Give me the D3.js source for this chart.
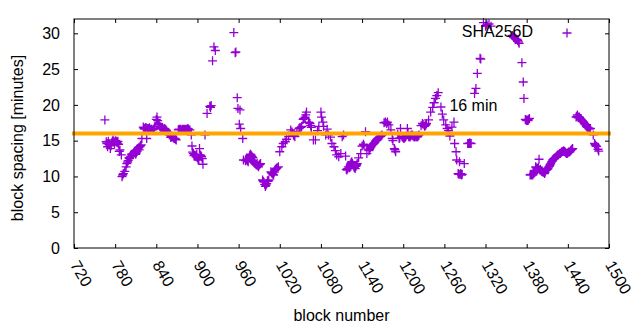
<!DOCTYPE html>
<html><head><meta charset="utf-8">
<script src="https://cdn.jsdelivr.net/npm/d3@7"></script>
<style>
body{margin:0;background:#fff}
svg text{font-family:"Liberation Sans",Arial,Helvetica,sans-serif;fill:#000}
</style>
</head><body>
<svg id="chart" width="640" height="330"></svg>
<script>
// ---- data ----
const blocks = [
765,767,768,769,770,772,773,775,777,778,779,780,782,783,786,787,789,790,791,792,
794,796,797,799,801,802,803,805,806,808,810,811,813,815,816,818,819,821,823,825,
826,827,828,830,831,833,835,837,840,841,843,845,847,849,852,854,856,857,859,861,
862,864,866,867,869,872,874,876,879,881,884,886,889,891,892,894,895,896,898,899,
901,903,904,906,907,908,911,914,918,919,920,922,924,926,953,955,956,958,959,961,
962,963,966,967,970,972,974,976,977,979,981,984,986,987,989,990,992,995,997,999,
1000,1002,1004,1007,1009,1011,1013,1015,1018,1020,1023,1025,1028,1030,1033,1036,1038,1040,1042,1045,
1048,1051,1054,1057,1059,1062,1064,1066,1069,1072,1075,1077,1080,1081,1083,1084,1087,1089,1091,1094,
1096,1099,1101,1103,1106,1109,1111,1113,1116,1118,1120,1122,1123,1125,1127,1128,1130,1133,1135,1138,
1140,1142,1143,1145,1147,1150,1153,1155,1157,1160,1162,1164,1167,1169,1172,1174,1176,1177,1179,1182,
1184,1187,1189,1192,1194,1196,1198,1201,1203,1206,1208,1211,1213,1216,1218,1221,1223,1226,1228,1231,
1233,1237,1240,1243,1245,1247,1249,1251,1255,1257,1259,1262,1264,1266,1268,1271,1274,1275,1277,1278,
1280,1282,1284,1285,1289,1294,1296,1298,1304,1306,1308,1312,1313,1317,1320,1322,1325,1328,1359,1361,
1362,1364,1366,1368,1369,1373,1375,1376,1378,1380,1381,1384,1385,1388,1389,1392,1393,1396,1398,1400,
1403,1405,1406,1408,1411,1413,1414,1416,1418,1420,1422,1424,1426,1428,1430,1432,1434,1436,1439,1441,
1443,1445,1447,1452,1454,1455,1457,1460,1463,1466,1469,1471,1473,1477,1479,1481,1485,
771,774,776,781,784,785,798,800,804,807,809,812,814,817,
822,824,829,832,834,836,838,842,844,846,848,850,853,855,863,865,868,
873,875,877,878,880,882,883,885,887,888,893,897,900,902,905,
971,973,975,978,980,982,983,985,988,991,996,998,1001,1003,1008,1010,1012,1014,1016,
1041,1049,1052,1055,1058,1063,1065,
1117,1119,1121,1124,1126,1129,1131,1132,
1151,1152,1154,1156,1158,1159,1161,1163,1165,1168,
1185,1188,1195,1199,1200,1202,1204,1207,1209,1210,1212,1214,1215,1217,1219,1220,1222,
1229,1232,1234,1295,1297,1299,1281,1283,1286,1360,1363,1365,1367,1379,1382,1383,
1386,1387,1390,1391,1394,1395,1397,1399,1401,1402,1404,1407,1409,1410,1412,1415,1417,1419,1421,1423,
1425,1427,1429,1431,1433,1435,1437,1438,1440,1442,1444,1446,
1453,1456,1458,1459,1461,1462,1464,1465,1467,1468,1470,1472,1480,1482,1484
];
const spacing = [
17.9,14.85,14.6,14.15,14.9,14.4,13.9,14.7,15.1,14.8,14.6,14.9,14.85,14.7,13.5,13.7,13.0,9.96,10.2,10.4,
10.7,11.35,11.8,12.2,12.5,12.7,12.85,13.0,13.2,13.45,13.1,13.3,13.9,13.7,14.15,14.4,15.3,16.9,16.6,16.85,
15.3,16.7,16.6,16.8,16.5,16.6,16.5,16.7,17.97,18.3,17.4,17.0,16.6,16.8,16.7,16.5,16.2,16.1,15.8,15.45,
15.55,15.6,15.3,15.3,15.1,16.5,16.6,16.5,16.6,16.5,16.6,16.7,16.5,15.8,14.25,13.2,12.9,13.0,12.75,13.1,
12.3,13.9,13.0,12.75,12.5,11.7,15.8,18.8,19.8,19.65,19.9,26.15,28.1,27.6,30.1,27.3,27.4,21.0,19.5,17.3,
19.3,16.7,15.3,12.3,12.2,12.4,12.05,12.9,13.1,12.85,12.6,11.8,11.6,11.8,11.35,11.6,11.8,9.5,9.2,8.6,
8.8,9.4,9.5,10.65,10.4,10.2,10.9,11.1,11.35,13.45,14.15,14.6,14.85,15.2,15.6,16.5,16.2,15.8,15.55,16.3,
16.7,16.85,17.97,18.3,19.0,17.6,17.4,16.85,15.1,15.1,16.4,17.0,19.0,18.3,17.6,17.0,15.8,16.6,15.8,15.5,
14.6,14.15,13.6,13.0,12.75,13.2,15.55,15.8,12.85,10.9,11.35,11.2,11.7,12.05,11.6,11.35,11.1,11.8,12.6,13.2,
14.25,14.5,14.3,16.25,13.2,13.6,14.15,14.4,14.6,15.0,15.2,15.4,15.55,15.8,17.5,17.6,17.4,17.6,17.2,16.5,
15.3,13.9,13.45,15.9,15.3,16.7,15.6,15.3,15.5,16.7,15.55,15.7,15.8,15.5,15.6,15.55,15.8,17.1,17.4,17.0,
17.2,17.9,19.0,19.65,20.3,20.9,21.3,21.7,19.7,18.7,17.9,17.2,16.7,16.4,15.65,16.9,17.6,14.6,13.45,12.3,
10.4,12.05,10.4,10.2,11.8,14.6,14.6,14.6,21.6,22.3,24.4,26.5,26.4,31.5,31.0,31.2,31.3,31.0,29.7,29.4,
29.5,29.2,29.15,28.8,28.6,25.9,23.2,20.9,17.97,17.8,17.9,18.1,10.2,10.3,10.2,10.6,11.35,11.1,12.4,11.0,
10.65,10.6,10.4,10.9,11.1,11.4,11.6,12.0,12.3,12.5,12.65,12.9,13.0,13.2,13.3,13.5,13.6,13.4,13.2,13.4,
13.45,13.7,13.9,18.3,18.6,18.2,18.3,17.9,17.6,17.2,16.85,16.6,16.7,15.8,14.6,14.25,13.55,
14.5,14.3,14.9,15.0,14.9,14.5,12.0,12.6,13.1,13.3,13.6,13.5,14.0,14.3,
16.7,16.8,16.7,16.6,16.5,16.6,17.0,17.8,17.2,16.9,16.7,16.6,16.6,16.4,15.5,15.4,15.2,
16.6,16.6,16.5,16.6,16.6,16.6,16.5,16.6,16.6,16.5,13.4,12.9,12.6,12.4,12.9,
12.3,12.2,12.6,13.0,12.7,12.0,11.9,11.7,11.5,11.7,9.3,8.9,9.0,9.3,10.5,10.3,10.6,11.0,11.2,
15.7,16.8,17.0,18.1,18.6,17.5,17.1,
11.0,11.1,11.3,11.9,11.8,11.2,11.4,11.6,
13.8,14.0,14.3,14.5,14.7,14.8,15.1,15.3,15.5,15.7,
15.0,13.7,15.4,15.5,15.4,15.4,15.6,16.0,15.6,15.5,15.8,15.7,15.6,15.5,15.6,15.5,15.7,
17.3,17.1,17.4,14.6,14.7,14.6,10.3,10.3,10.3,29.6,29.3,29.2,29.0,17.9,17.8,18.0,
10.3,10.2,10.4,10.5,11.2,11.0,11.3,10.9,10.8,10.7,10.6,10.6,10.9,11.0,11.3,11.8,12.1,12.4,12.6,12.8,
13.0,13.1,13.2,13.4,13.5,13.5,13.3,13.2,13.3,13.4,13.6,13.8,
18.4,18.3,18.1,18.0,17.8,17.7,17.4,17.3,17.0,16.9,16.8,16.7,14.4,14.2,13.8
];
const xTicks = [720,780,840,900,960,1020,1080,1140,1200,1260,1320,1380,1440,1500];
const yTicks = [0,5,10,15,20,25,30];
const xDomain = [720,1500];
const yDomain = [0,32];
const targetMinutes = 16;
const seriesName = "SHA256D";
const targetLabel = "16 min";
const xTitle = "block number";
const yTitle = "block spacing [minutes]";

// ---- drawing ----
const svg = d3.select("#chart");
const L=74, R=609, T=19, B=248;
const x = d3.scaleLinear().domain(xDomain).range([L,R]);
const y = d3.scaleLinear().domain(yDomain).range([B,T]);
const purple = "#9400d3", fs = 16;

// points
const pts = blocks.map((b,i)=>[b,spacing[i]]);
svg.append("path")
  .attr("fill","none").attr("stroke",purple).attr("stroke-width",1.3)
  .attr("d", pts.map(([b,v])=>{const px=x(b),py=y(v);return `M${px-4.5},${py}h9M${px},${py-4.5}v9`;}).join(""));

// target line (drawn over the points)
svg.append("line")
  .attr("x1",x(xDomain[0])).attr("x2",x(xDomain[1]))
  .attr("y1",y(targetMinutes)).attr("y2",y(targetMinutes))
  .attr("stroke","#ffa500").attr("stroke-width",4).attr("stroke-linecap","square");

// axes
const gB = svg.append("g").attr("transform",`translate(0,${B})`)
  .call(d3.axisBottom(x).tickValues(xTicks).tickSizeInner(-4).tickSizeOuter(0).tickFormat(d3.format("d")));
gB.selectAll("text").attr("y",0).attr("dy",0).attr("x",0)
  .attr("text-anchor","start").attr("dominant-baseline","central")
  .attr("transform","translate(0,14) rotate(60)");
svg.append("g").attr("transform",`translate(0,${T})`)
  .call(d3.axisTop(x).tickValues(xTicks).tickSizeInner(-4).tickSizeOuter(0).tickFormat(""));
svg.append("g").attr("transform",`translate(${L},0)`)
  .call(d3.axisLeft(y).tickValues(yTicks).tickSizeInner(-4).tickSizeOuter(0).tickPadding(14));
svg.append("g").attr("transform",`translate(${R},0)`)
  .call(d3.axisRight(y).tickValues(yTicks).tickSizeInner(-4).tickSizeOuter(0).tickFormat(""));
svg.selectAll(".domain").remove();
svg.selectAll(".tick line").attr("stroke","#000");
svg.selectAll(".tick text").attr("font-size",fs).attr("fill","#000").attr("font-family",null);
svg.append("rect").attr("x",L).attr("y",T).attr("width",R-L).attr("height",B-T)
  .attr("fill","none").attr("stroke","#000").attr("stroke-width",1);

// titles
svg.append("text").attr("x",(L+R)/2).attr("y",321).attr("text-anchor","middle")
  .attr("font-size",fs).text(xTitle);
svg.append("text").attr("transform",`translate(23,138) rotate(-90)`).attr("text-anchor","middle")
  .attr("font-size",fs).text(yTitle);

// labels & legend
svg.append("text").attr("x",x(1260)+5).attr("y",y(targetMinutes)-23).attr("font-size",fs).text(targetLabel);
svg.append("text").attr("x",533).attr("y",37).attr("text-anchor","end").attr("font-size",fs).text(seriesName);
svg.append("path").attr("fill","none").attr("stroke",purple).attr("stroke-width",1.3)
  .attr("d",`M${567-4.5},33h9M567,${33-4.5}v9`);
</script>
</body></html>
